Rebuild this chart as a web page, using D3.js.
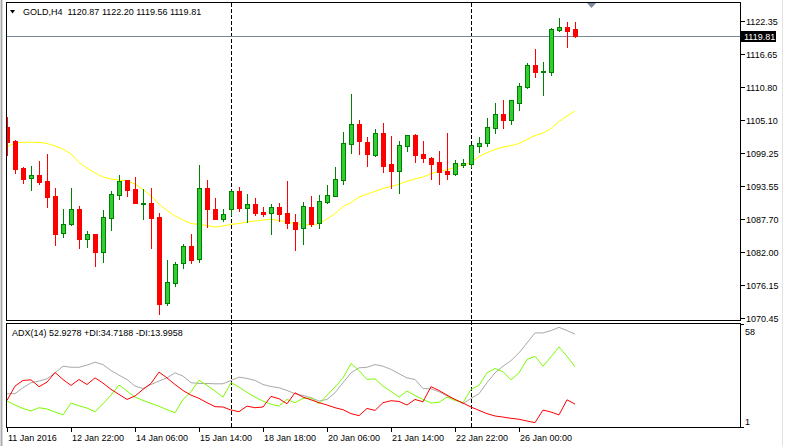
<!DOCTYPE html>
<html><head><meta charset="utf-8">
<script src="https://cdn.jsdelivr.net/npm/d3@7"></script>
<style>
body{margin:0;background:#fff;}
svg{display:block;}
text{font-family:"Liberation Sans",Arial,sans-serif;font-size:9px;fill:#000;white-space:pre;}
</style>
</head><body>
<svg id="chart" width="785" height="446"></svg>
<script>
// ---------- data ----------
const headerText = "GOLD,H4  1120.87 1122.20 1119.56 1119.81";
const indicatorText = "ADX(14) 52.9278 +DI:34.7188 -DI:13.9958";
const timeLabels = ["11 Jan 2016","12 Jan 22:00","14 Jan 06:00","15 Jan 14:00","18 Jan 18:00","20 Jan 06:00","21 Jan 14:00","22 Jan 22:00","26 Jan 00:00"];
const timeLabelBars = [0,8,16,24,32,40,48,56,64];
const separatorBars = [28,58];
const priceTicks = [1122.35,1116.65,1110.80,1105.10,1099.25,1093.55,1087.70,1082.00,1076.15,1070.45];
const bidPrice = 1119.81;
const adxTicks = [58,1];

const open = [1103.88,1101.38,1096.66,1094.97,1095.44,1094.39,1091.77,1085.25,1086.93,1089.50,
1084.20,1085.08,1082.04,1087.98,1092.00,1094.56,1092.99,1090.45,1090.49,1088.05,
1073.02,1076.62,1080.01,1083.03,1080.71,1093.11,1089.50,1087.70,1089.45,1092.64,
1089.72,1090.32,1088.97,1088.85,1089.85,1088.80,1087.23,1086.23,1089.85,1087.10,
1090.72,1091.82,1094.62,1100.91,1104.35,1101.26,1098.99,1102.78,1097.36,1096.19,
1100.56,1102.43,1099.11,1098.46,1097.71,1096.14,1095.61,1097.24,1097.40,1100.56,
1101.08,1103.70,1106.10,1105.05,1108.07,1110.82,1114.66,1113.50,1113.49,1120.83,
1121.30,1120.87];
const high = [1105.63,1101.55,1096.89,1097.01,1097.89,1099.11,1093.17,1089.50,1093.17,1090.02,
1085.65,1085.20,1089.32,1092.64,1095.44,1094.65,1095.09,1092.99,1093.10,1088.75,
1080.58,1080.18,1083.33,1085.13,1097.19,1094.56,1091.42,1089.50,1092.75,1093.29,
1092.07,1091.47,1089.85,1090.37,1090.55,1094.39,1088.62,1090.72,1091.77,1091.94,
1093.69,1096.84,1102.95,1109.59,1105.05,1102.08,1103.48,1104.58,1102.31,1101.38,
1102.43,1102.60,1101.38,1098.60,1099.63,1102.78,1098.06,1098.18,1100.75,1102.08,
1105.45,1108.02,1108.54,1108.54,1111.52,1115.01,1117.46,1115.19,1121.13,1122.87,
1122.18,1122.20];
const low = [1098.93,1095.84,1094.09,1092.82,1093.87,1089.90,1083.21,1084.55,1086.70,1082.73,
1082.91,1079.59,1080.29,1085.83,1091.19,1091.77,1090.50,1087.75,1082.73,1071.15,
1072.72,1076.09,1079.24,1080.01,1080.29,1086.30,1087.70,1087.45,1088.45,1089.20,
1087.28,1088.45,1088.27,1085.13,1087.45,1086.23,1082.33,1083.38,1086.53,1086.23,
1090.60,1091.75,1093.92,1099.34,1099.11,1097.01,1098.76,1096.02,1093.22,1092.35,
1099.69,1097.76,1097.76,1094.74,1093.92,1094.79,1095.44,1096.89,1096.89,1099.51,
1100.51,1102.83,1103.70,1104.40,1106.85,1110.64,1112.56,1109.42,1112.86,1120.66,
1117.86,1119.56];
const close = [1101.26,1096.54,1094.74,1095.44,1094.27,1091.65,1085.13,1086.82,1089.50,1084.31,
1085.08,1082.04,1088.05,1092.07,1094.39,1092.82,1090.60,1090.52,1087.98,1072.90,
1076.79,1079.89,1083.03,1080.58,1093.11,1089.45,1087.80,1088.57,1092.64,1089.72,
1090.32,1088.85,1088.62,1089.85,1088.68,1087.10,1086.05,1090.02,1086.82,1090.90,
1091.94,1094.74,1101.03,1104.35,1101.38,1099.16,1102.78,1097.01,1096.19,1100.68,
1102.40,1098.93,1098.46,1097.36,1095.96,1095.67,1097.48,1097.59,1100.68,1101.03,
1103.83,1106.10,1105.05,1108.50,1110.99,1114.66,1113.44,1113.58,1120.95,1121.30,
1120.60,1119.81];
const movingAverage = [1100.38,1101.03,1101.15,1101.15,1101.15,1100.94,1100.51,1099.98,1099.11,1097.62,
1096.66,1095.79,1095.09,1094.74,1094.56,1094.39,1093.87,1092.90,1091.77,1090.37,
1089.24,1088.27,1087.57,1086.96,1086.82,1086.61,1086.35,1086.53,1086.82,1086.96,
1087.23,1087.40,1087.57,1087.70,1087.49,1087.23,1086.96,1086.79,1086.70,1086.96,
1087.75,1088.71,1089.93,1090.60,1091.59,1092.07,1092.59,1093.08,1093.43,1093.81,
1094.34,1094.74,1095.09,1095.67,1096.09,1096.36,1096.75,1097.19,1097.62,1098.67,
1099.34,1099.89,1100.33,1100.56,1100.94,1101.64,1102.34,1102.78,1103.56,1104.79,
1105.75,1106.62];
const adx = [19.8,19.8,23.1,25.9,26.8,28.1,31.4,35.1,34.5,34.5,
35.7,37.3,36.0,32.7,30.1,27.7,24.0,22.7,24.9,26.8,
28.6,31.4,29.6,25.9,25.5,25.5,25.3,25.3,27.2,29.0,
28.3,27.2,24.9,23.8,23.1,21.6,19.8,18.8,17.6,15.7,
16.6,20.3,25.9,31.4,34.2,34.5,36.0,35.1,33.3,30.9,
28.6,27.7,22.7,22.5,20.9,18.5,16.6,14.2,17.2,19.8,
25.9,31.4,35.1,38.2,42.5,48.0,53.6,53.6,54.9,56.7,
54.9,52.93];
const plusDI = [15.7,13.5,11.6,10.2,12.0,11.3,9.6,8.0,14.6,13.1,
11.8,9.8,14.2,19.0,24.6,21.3,17.9,16.1,14.4,12.8,
10.9,9.2,16.6,20.9,27.3,24.4,21.3,17.9,25.9,23.5,
20.5,17.9,15.7,13.9,12.9,16.6,14.8,17.2,17.4,14.2,
19.0,23.5,28.6,36.6,32.7,27.7,28.1,24.0,21.1,17.9,
21.3,18.8,16.6,14.6,15.0,17.9,16.1,14.8,22.2,24.4,
31.4,33.8,32.0,27.5,31.4,38.8,40.6,35.1,40.3,45.8,
40.6,34.72];
const minusDI = [16.1,24.0,27.2,27.5,23.7,26.2,31.6,27.7,24.4,27.7,
24.9,28.6,25.7,22.2,19.4,16.6,18.5,22.2,25.5,31.8,
28.6,24.9,21.6,19.0,17.2,14.8,12.6,12.4,10.7,9.8,
12.9,12.0,12.4,18.3,17.0,14.2,20.3,17.9,16.4,14.8,
13.5,12.0,10.9,8.7,7.6,11.6,10.5,14.8,15.9,15.5,
13.5,16.6,15.3,23.7,21.6,19.0,16.6,14.6,12.4,10.5,
8.7,7.4,6.8,6.1,5.6,4.6,3.7,10.7,9.6,8.0,
16.4,14.0];

// ---------- scales ----------
const svg = d3.select("#chart");
const x = d3.scaleLinear().domain([0, 71]).range([7, 575]);
const y = d3.scaleLinear().domain([1070.45, 1122.35]).range([318, 21]);
const ya = d3.scaleLinear().domain([1, 58]).range([427.5, 325]);
const px = v => Math.round(v);

// window edges
svg.append("rect").attr("x",0).attr("y",0).attr("width",3).attr("height",446).attr("fill","#d8d8d8");
svg.append("line").attr("x1",1.5).attr("x2",1.5).attr("y1",0).attr("y2",446).attr("stroke","#a8a8a8");
svg.append("line").attr("x1",782.5).attr("x2",782.5).attr("y1",0).attr("y2",446).attr("stroke","#e3e3e3");

const defs = svg.append("defs");
defs.append("clipPath").attr("id","mainClip").append("rect").attr("x",7).attr("y",3).attr("width",733).attr("height",317);
defs.append("clipPath").attr("id","subClip").append("rect").attr("x",7).attr("y",324).attr("width",733).attr("height",103);

// separators
svg.append("g").selectAll("line").data(separatorBars).join("line")
  .attr("x1", d => px(x(d)) + 0.5).attr("x2", d => px(x(d)) + 0.5)
  .attr("y1", 3).attr("y2", 428)
  .attr("stroke", "#000").attr("stroke-dasharray", "4,2");

const main = svg.append("g").attr("clip-path","url(#mainClip)");

// bid line
main.append("line").attr("x1",7).attr("x2",741)
  .attr("y1", px(y(bidPrice)) + 0.5).attr("y2", px(y(bidPrice)) + 0.5)
  .attr("stroke","#778899");

// moving average
main.append("path").datum(movingAverage)
  .attr("d", d3.line().x((d,i) => x(i)).y(d => y(d)))
  .attr("fill","none").attr("stroke","#ffff00").attr("stroke-width",1);

// candles
const idx = d3.range(open.length);
const bull = i => close[i] >= open[i];
const cg = main.append("g");
cg.selectAll("line.wick").data(idx).join("line").attr("class","wick")
  .attr("x1", i => px(x(i)) + 0.5).attr("x2", i => px(x(i)) + 0.5)
  .attr("y1", i => px(y(high[i]))).attr("y2", i => px(y(low[i])) + 1)
  .attr("stroke", i => bull(i) ? "#008000" : "#ff0000");
cg.selectAll("rect.body").data(idx).join("rect").attr("class","body")
  .attr("x", i => bull(i) ? px(x(i)) - 1.5 : px(x(i)) - 2)
  .attr("width", i => bull(i) ? 4 : 5)
  .attr("y", i => {
    const t = px(y(Math.max(open[i], close[i])));
    return bull(i) ? t + 0.5 : t;
  })
  .attr("height", i => {
    const t = px(y(Math.max(open[i], close[i])));
    const b = px(y(Math.min(open[i], close[i])));
    return bull(i) ? Math.max(0, b - t) : Math.max(1, b - t + 1);
  })
  .attr("fill", i => bull(i) ? "#32cd32" : "#ff0000")
  .attr("stroke", i => bull(i) ? "#008000" : "none");

// chart shift marker
svg.append("path").attr("d","M587,3 L596,3 L591.5,8 Z").attr("fill","#7a8a9a");

// frames
const frame = svg.append("g").attr("fill","none").attr("stroke","#000").attr("shape-rendering","crispEdges");
frame.append("rect").attr("x",6.5).attr("y",2.5).attr("width",734).attr("height",318);
frame.append("rect").attr("x",6.5).attr("y",323.5).attr("width",734).attr("height",104);

// header
svg.append("path").attr("d","M10,10 L15,10 L12.5,13.5 Z").attr("fill","#000");
svg.append("text").attr("x",23).attr("y",15).text(headerText);

// right price axis
const ax = svg.append("g");
ax.selectAll("line").data(priceTicks).join("line")
  .attr("x1",741).attr("x2",745)
  .attr("y1", d => px(y(d)) + 0.5).attr("y2", d => px(y(d)) + 0.5)
  .attr("stroke","#000");
ax.selectAll("text").data(priceTicks).join("text")
  .attr("x",746).attr("y", d => px(y(d)) + 3.5)
  .text(d => d.toFixed(2));

// bid label
const by = px(y(bidPrice));
svg.append("rect").attr("x",741).attr("y",by - 5).attr("width",35).attr("height",11).attr("fill","#000");
svg.append("text").attr("x",744).attr("y",by + 3.5).style("fill","#fff").text(bidPrice.toFixed(2));

// ADX sub window
const sub = svg.append("g").attr("clip-path","url(#subClip)");
const aline = d3.line().x((d,i) => x(i)).y(d => ya(d));
sub.append("path").datum(adx).attr("d", aline).attr("fill","none").attr("stroke","#a9a9a9");
sub.append("path").datum(plusDI).attr("d", aline).attr("fill","none").attr("stroke","#7cfc00");
sub.append("path").datum(minusDI).attr("d", aline).attr("fill","none").attr("stroke","#ff0000");
svg.append("text").attr("x",12).attr("y",336).text(indicatorText);

// ADX axis labels
svg.append("text").attr("x",745).attr("y",335).text(adxTicks[0]);
svg.append("text").attr("x",745).attr("y",425).text(adxTicks[1]);
svg.append("line").attr("x1",741).attr("x2",744).attr("y1",324.5).attr("y2",324.5).attr("stroke","#000");
svg.append("line").attr("x1",741).attr("x2",744).attr("y1",427.5).attr("y2",427.5).attr("stroke","#000");

// time axis
const tg = svg.append("g");
tg.selectAll("line").data(timeLabelBars).join("line")
  .attr("x1", d => px(x(d)) + 0.5).attr("x2", d => px(x(d)) + 0.5)
  .attr("y1",428).attr("y2",432).attr("stroke","#000");
tg.selectAll("text").data(timeLabels).join("text")
  .attr("x", (d,i) => px(x(timeLabelBars[i])) + 1)
  .attr("y", 441)
  .text(d => d);
</script>
</body></html>
